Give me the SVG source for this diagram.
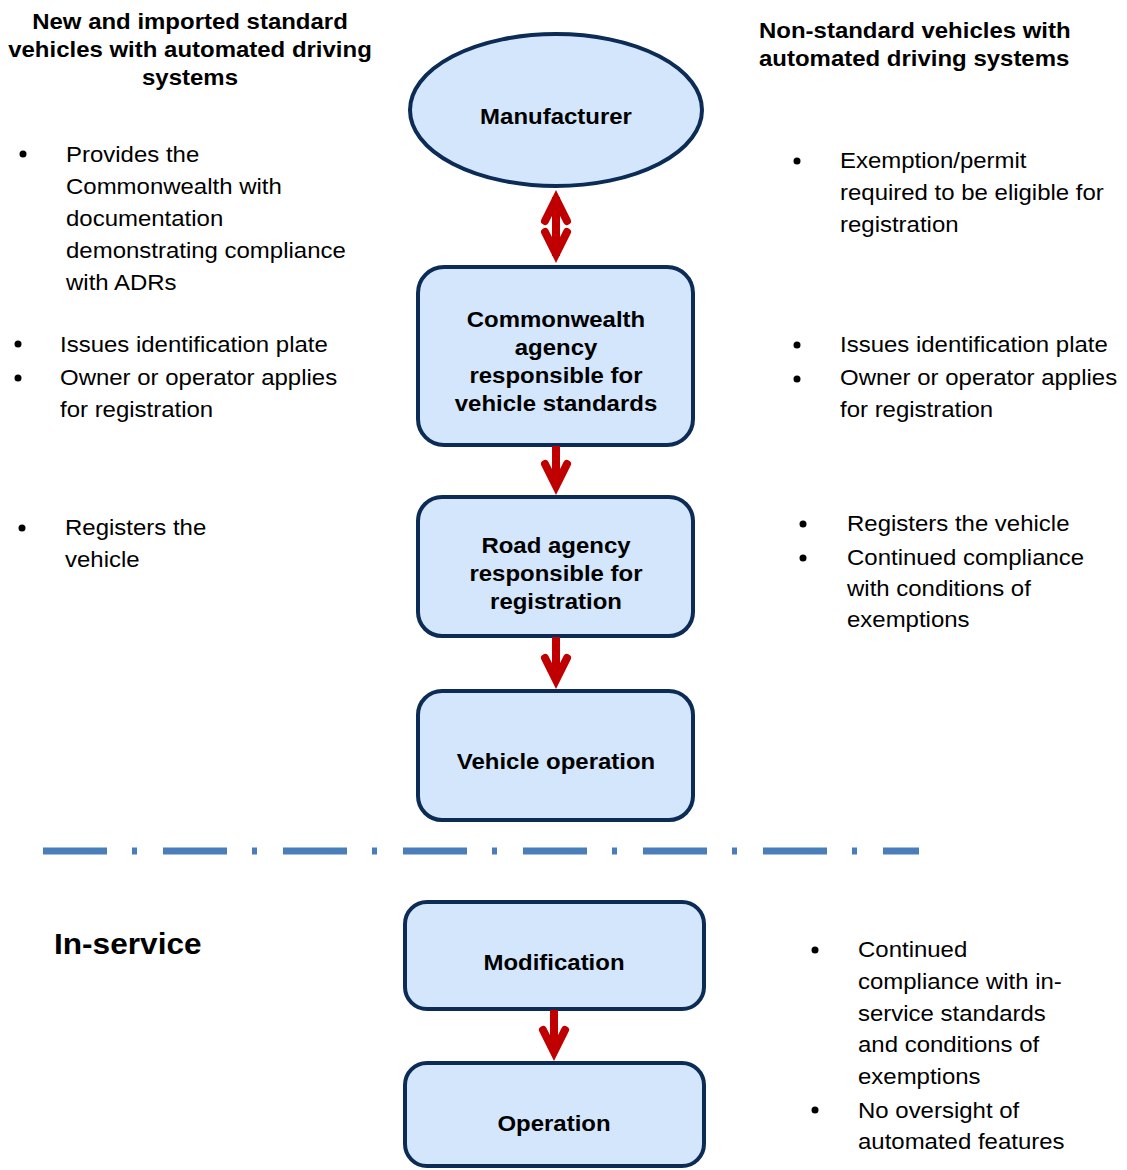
<svg xmlns="http://www.w3.org/2000/svg" xmlns:xlink="http://www.w3.org/1999/xlink" width="1127" height="1170" viewBox="0 0 1127 1170">
<style>
text{font-family:"Liberation Sans",Arial,sans-serif;fill:#000}
.b{font-size:22px}
.h{font-size:22px;font-weight:bold}
.n{font-size:22px;font-weight:bold;text-anchor:middle}
.node{fill:#D3E6FB;stroke:#0C2C55;stroke-width:4}
.shaft{stroke:#C00000;stroke-width:8;fill:none}
.chev{stroke:#C00000;stroke-width:8;fill:none;stroke-linecap:round;stroke-linejoin:miter}
.dot{fill:#000}
</style>
<defs>
<path id="chev" d="M-11,-22 L0,0 L11,-22"/>
</defs>
<rect width="1127" height="1170" fill="#fff"/>

<g id="left-header">
<text class="h" text-anchor="middle" transform="translate(190,29) scale(1.09,1)"><tspan x="0" y="0">New and imported standard</tspan><tspan x="0" y="28">vehicles with automated driving</tspan><tspan x="0" y="56">systems</tspan></text>
</g>
<g id="right-header">
<text class="h" transform="translate(759,38) scale(1.09,1)"><tspan x="0" y="0">Non-standard vehicles with</tspan><tspan x="0" y="28">automated driving systems</tspan></text>
</g>

<g id="left-notes">
<circle class="dot" cx="23" cy="154" r="3.5"/>
<text class="b" transform="translate(66,162) scale(1.09,1)"><tspan x="0" y="0">Provides the</tspan><tspan x="0" y="32">Commonwealth with</tspan><tspan x="0" y="64">documentation</tspan><tspan x="0" y="96">demonstrating compliance</tspan><tspan x="0" y="128">with ADRs</tspan></text>
<circle class="dot" cx="18" cy="344" r="3.5"/>
<circle class="dot" cx="18" cy="378" r="3.5"/>
<text class="b" transform="translate(60,352) scale(1.09,1)"><tspan x="0" y="0">Issues identification plate</tspan><tspan x="0" y="33">Owner or operator applies</tspan><tspan x="0" y="65">for registration</tspan></text>
<circle class="dot" cx="22" cy="528" r="3.5"/>
<text class="b" transform="translate(65,535) scale(1.09,1)"><tspan x="0" y="0">Registers the</tspan><tspan x="0" y="32">vehicle</tspan></text>
</g>

<g id="right-notes">
<circle class="dot" cx="797" cy="161" r="3.5"/>
<text class="b" transform="translate(840,168) scale(1.09,1)"><tspan x="0" y="0">Exemption/permit</tspan><tspan x="0" y="32">required to be eligible for</tspan><tspan x="0" y="64">registration</tspan></text>
<circle class="dot" cx="797" cy="345" r="3.5"/>
<circle class="dot" cx="797" cy="379" r="3.5"/>
<text class="b" transform="translate(840,352) scale(1.09,1)"><tspan x="0" y="0">Issues identification plate</tspan><tspan x="0" y="33">Owner or operator applies</tspan><tspan x="0" y="65">for registration</tspan></text>
<circle class="dot" cx="803" cy="524" r="3.5"/>
<circle class="dot" cx="803" cy="558" r="3.5"/>
<text class="b" transform="translate(847,531) scale(1.09,1)"><tspan x="0" y="0">Registers the vehicle</tspan><tspan x="0" y="34">Continued compliance</tspan><tspan x="0" y="65">with conditions of</tspan><tspan x="0" y="96">exemptions</tspan></text>
<circle class="dot" cx="815" cy="950" r="3.5"/>
<circle class="dot" cx="815" cy="1110" r="3.5"/>
<text class="b" transform="translate(858,957) scale(1.09,1)"><tspan x="0" y="0">Continued</tspan><tspan x="0" y="32">compliance with in-</tspan><tspan x="0" y="64">service standards</tspan><tspan x="0" y="95">and conditions of</tspan><tspan x="0" y="127">exemptions</tspan><tspan x="0" y="161">No oversight of</tspan><tspan x="0" y="192">automated features</tspan></text>
</g>

<g id="in-service">
<text style="font-size:29px;font-weight:bold" transform="translate(54,954) scale(1.09,1)">In-service</text>
</g>

<g id="separator">
<line x1="43" y1="851" x2="919" y2="851" stroke="#4A7EBB" stroke-width="7" stroke-dasharray="64 25 5 26"/>
</g>

<g id="manufacturer">
<ellipse class="node" cx="556" cy="110" rx="146" ry="76"/>
<text class="n" transform="translate(556,124) scale(1.09,1)">Manufacturer</text>
</g>
<g id="commonwealth-agency">
<rect class="node" x="418" y="267" width="275" height="178" rx="26"/>
<text class="n" transform="translate(556,327) scale(1.09,1)"><tspan x="0" y="0">Commonwealth</tspan><tspan x="0" y="28">agency</tspan><tspan x="0" y="56">responsible for</tspan><tspan x="0" y="84">vehicle standards</tspan></text>
</g>
<g id="road-agency">
<rect class="node" x="418" y="497" width="275" height="139" rx="24"/>
<text class="n" transform="translate(556,553) scale(1.09,1)"><tspan x="0" y="0">Road agency</tspan><tspan x="0" y="28">responsible for</tspan><tspan x="0" y="56">registration</tspan></text>
</g>
<g id="vehicle-operation">
<rect class="node" x="418" y="691" width="275" height="129" rx="24"/>
<text class="n" transform="translate(556,769) scale(1.09,1)">Vehicle operation</text>
</g>
<g id="modification">
<rect class="node" x="405" y="902" width="299" height="107" rx="22"/>
<text class="n" transform="translate(554,970) scale(1.09,1)">Modification</text>
</g>
<g id="operation">
<rect class="node" x="405" y="1063" width="299" height="103" rx="22"/>
<text class="n" transform="translate(554,1131) scale(1.09,1)">Operation</text>
</g>

<g id="connectors">
<line class="shaft" x1="556" y1="197" x2="556" y2="256"/>
<use xlink:href="#chev" class="chev" transform="translate(556,199) scale(1,-1)"/>
<use xlink:href="#chev" class="chev" transform="translate(556,254)"/>
<line class="shaft" x1="556" y1="446" x2="556" y2="486"/>
<use xlink:href="#chev" class="chev" transform="translate(556,486)"/>
<line class="shaft" x1="556" y1="637" x2="556" y2="680"/>
<use xlink:href="#chev" class="chev" transform="translate(556,680)"/>
<line class="shaft" x1="554" y1="1010" x2="554" y2="1052"/>
<use xlink:href="#chev" class="chev" transform="translate(554,1052)"/>
</g>
</svg>
